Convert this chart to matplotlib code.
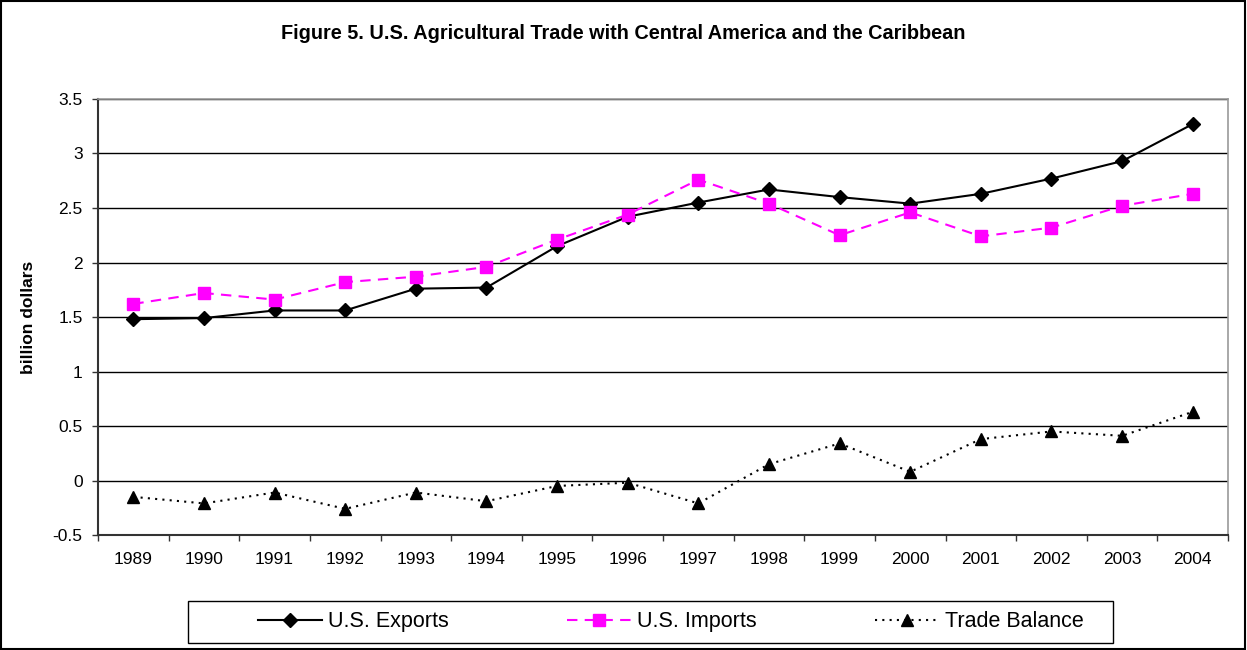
import numpy as np
import matplotlib
matplotlib.use('Agg')
import matplotlib.pyplot as plt
from matplotlib.patches import Rectangle
from matplotlib.ticker import FixedLocator

plt.rcParams['font.family'] = ['Liberation Sans', 'DejaVu Sans']

# Years on the category axis
years = ['1989', '1990', '1991', '1992', '1993', '1994', '1995', '1996',
         '1997', '1998', '1999', '2000', '2001', '2002', '2003', '2004']

# [billion dollars] values
exports = [1.48, 1.49, 1.56, 1.56, 1.76, 1.77, 2.15, 2.42,
           2.55, 2.67, 2.60, 2.54, 2.63, 2.77, 2.93, 3.27]
imports = [1.62, 1.72, 1.66, 1.82, 1.87, 1.96, 2.21, 2.44,
           2.76, 2.54, 2.25, 2.46, 2.24, 2.32, 2.52, 2.63]
balance = [-0.15, -0.21, -0.11, -0.26, -0.11, -0.19, -0.05, -0.02,
           -0.21, 0.15, 0.34, 0.08, 0.38, 0.45, 0.41, 0.63]

y_ticks = [-0.5, 0, 0.5, 1, 1.5, 2, 2.5, 3, 3.5]

fig = plt.figure(figsize=(12.47, 6.5), dpi=100)
ax = fig.add_axes([0.0786, 0.1769, 0.9062, 0.6708])

x = np.arange(len(years))

a, = ax.plot(x, exports, color='black', lw=1.5, marker='D', markersize=7.5,
             markerfacecolor='black', markeredgecolor='black')
b, = ax.plot(x, imports, color='#FF00FF', lw=1.5, ls=(0, (5, 3.5)), marker='s',
             markersize=8.5, markerfacecolor='#FF00FF', markeredgecolor='#FF00FF')
c, = ax.plot(x, balance, color='black', lw=1.5, ls=(0, (1, 2.5)), marker='^',
             markersize=8.5, markerfacecolor='black', markeredgecolor='black')

ax.set_xlim(-0.5, len(years) - 0.5)
ax.set_ylim(-0.5, 3.5)
ax.set_yticks(y_ticks)
ax.set_yticklabels(['%g' % v for v in y_ticks])
ax.set_xticks(x)
ax.set_xticklabels(years)
ax.xaxis.set_minor_locator(FixedLocator(np.arange(-0.5, len(years), 1.0)))
ax.tick_params(axis='x', which='major', length=0, pad=12, labelsize=12.5)
ax.tick_params(axis='x', which='minor', length=4, width=1, color='#333333')
ax.tick_params(axis='y', length=4, width=1, color='#333333', pad=7, labelsize=12.5)

ax.grid(axis='y', color='black', lw=1)
ax.set_axisbelow(True)
for s in ['top', 'right']:
    ax.spines[s].set_color('#999999')
    ax.spines[s].set_linewidth(1.2)
for s in ['left', 'bottom']:
    ax.spines[s].set_color('#333333')
    ax.spines[s].set_linewidth(1.5)

ax.set_ylabel('billion dollars', fontsize=12.5, fontweight='bold', labelpad=12)
fig.text(0.5, 0.948, 'Figure 5. U.S. Agricultural Trade with Central America and the Caribbean',
         ha='center', va='center', fontsize=14.3, fontweight='bold')

# legend frame and entries
fig.patches.append(Rectangle((0.1508, 0.0108), 0.7417, 0.0646, transform=fig.transFigure,
                             fill=False, ec='black', lw=1))
fig.legend([a, b, c], ['U.S. Exports', 'U.S. Imports', 'Trade Balance'],
           loc='center', bbox_to_anchor=(0.5377, 0.0431), ncol=3, frameon=False,
           fontsize=15.5, handlelength=3.0, handletextpad=0.25, columnspacing=5.5)

# outer chart border
fig.patches.append(Rectangle((0.001, 0.002), 0.997, 0.996, transform=fig.transFigure,
                             fill=False, ec='black', lw=1.5))

plt.savefig('out.png', dpi=100)
